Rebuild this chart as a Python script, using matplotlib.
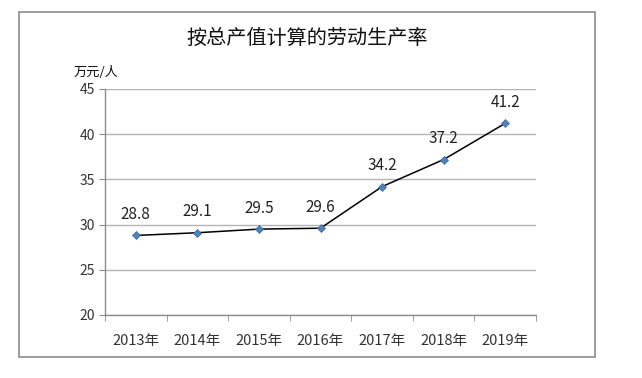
import matplotlib
matplotlib.use("Agg")
import matplotlib.pyplot as plt
from matplotlib.patches import Rectangle

plt.rcParams['font.family'] = ['Noto Sans CJK SC', 'DejaVu Sans']

years = ['2013年', '2014年', '2015年', '2016年', '2017年', '2018年', '2019年']
values = [28.8, 29.1, 29.5, 29.6, 34.2, 37.2, 41.2]
yticks = [20, 25, 30, 35, 40, 45]

W, H = 642, 378
fig = plt.figure(figsize=(W/100, H/100), dpi=100)
fig.patch.set_facecolor('white')

# outer frame
fig.patches.append(Rectangle((19/W, 1-357/H), (595-19)/W, (357-12)/H,
                             transform=fig.transFigure, fill=False,
                             edgecolor='#8c8c8c', linewidth=1.2))

ax = fig.add_axes([105/W, 1-315/H, (536-105)/W, (315-89)/H])
x = list(range(len(years)))
ax.plot(x, values, color='black', linewidth=1.1, zorder=3,
        marker='D', markersize=4.5, markerfacecolor='#4F81BD',
        markeredgecolor='#3a6a9e', markeredgewidth=0.5)
for xi, v in zip(x, values):
    ax.annotate(f'{v}', (xi, v), xytext=(0, 9), textcoords='offset points',
                ha='center', va='bottom', fontsize=11, color='#222222')

ax.set_xlim(-0.5, len(years)-0.5)
ax.set_ylim(20, 45)
ax.set_yticks(yticks)
ax.set_yticklabels([str(t) for t in yticks], fontsize=10, color='#333333')
ax.set_xticks(x)
ax.set_xticklabels(years, fontsize=10.5, color='#333333')
ax.set_xticks([i - 0.5 for i in range(len(years)+1)], minor=True)
ax.tick_params(axis='x', which='major', length=0, pad=14)
ax.tick_params(axis='x', which='minor', length=4, color='#8c8c8c', direction='out')
ax.tick_params(axis='y', length=4, color='#8c8c8c', direction='out', pad=3)

ax.grid(axis='y', color='#b4b4b4', linewidth=1.0)
ax.set_axisbelow(True)
for s in ['top', 'right']:
    ax.spines[s].set_visible(False)
for s in ['left', 'bottom']:
    ax.spines[s].set_color('#8c8c8c')
    ax.spines[s].set_linewidth(1.0)

fig.text(307.5/W, 1-38.5/H, '按总产值计算的劳动生产率', ha='center', va='center',
         fontsize=14.5, color='#111111')
fig.text(74/W, 1-73/H, '万元/人', ha='left', va='center', fontsize=9.5,
         color='#111111')

fig.savefig('out.png', dpi=100, facecolor='white')
